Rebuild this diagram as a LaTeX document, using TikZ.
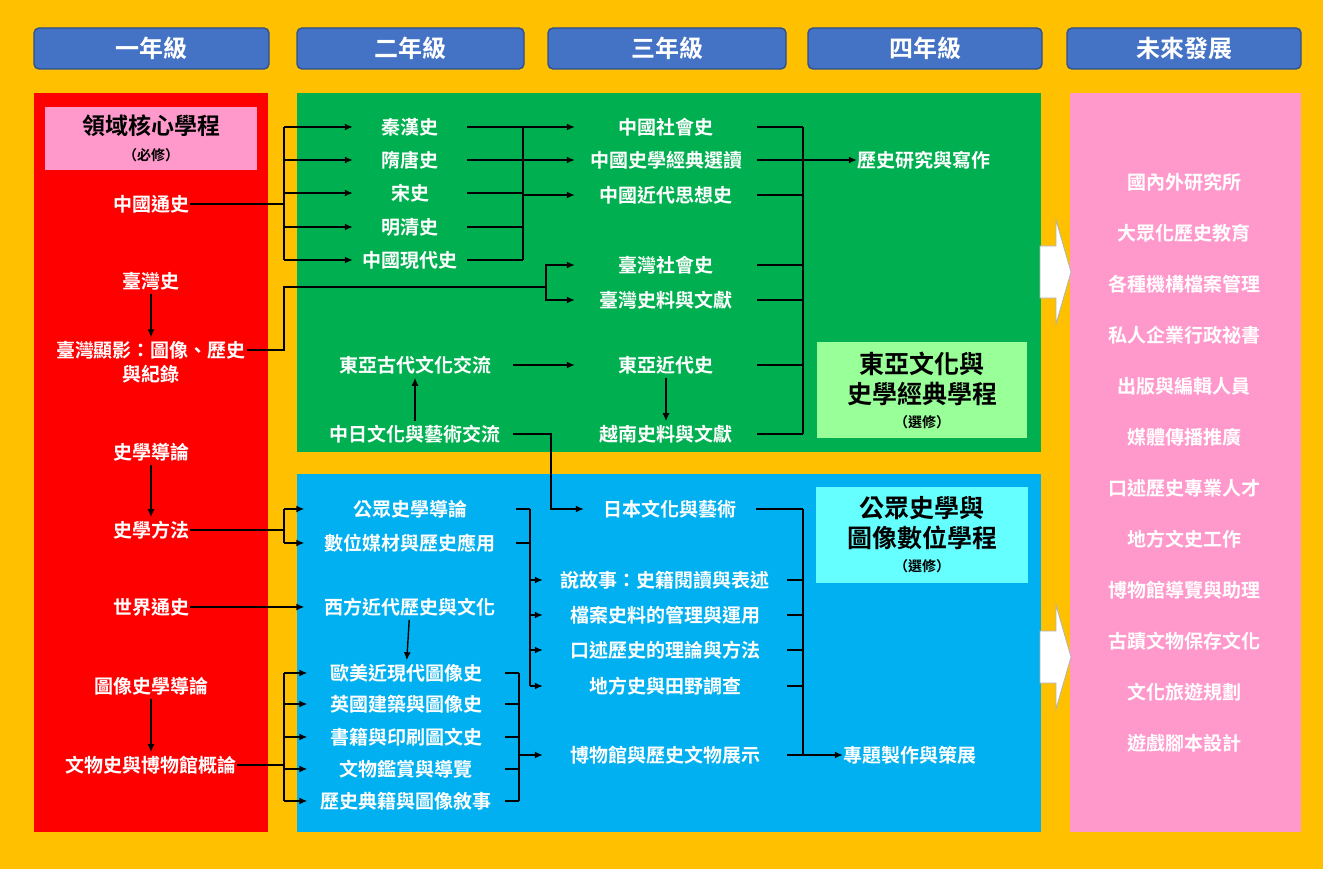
\documentclass[tikz,border=0pt]{standalone}
\usepackage{fontspec}
\setmainfont{Noto Sans CJK TC}[BoldFont={Noto Sans CJK TC Bold}]
\usetikzlibrary{arrows.meta}
\definecolor{bgorange}{HTML}{FFC000}
\definecolor{hdblue}{HTML}{4472C4}
\definecolor{redbox}{HTML}{FF0000}
\definecolor{greenbox}{HTML}{00B050}
\definecolor{bluebox}{HTML}{00B0F0}
\definecolor{pinkbox}{HTML}{FF99CC}
\definecolor{lblgreen}{HTML}{99FF99}
\definecolor{lblcyan}{HTML}{66FFFF}
\tikzstyle{header}=[draw=hdblue!70!black,fill=hdblue,rounded corners=5pt,text=white,font=\fontsize{24}{26}\selectfont\bfseries]
\tikzstyle{course}=[text=white,font=\fontsize{19}{21}\selectfont\bfseries,inner xsep=0pt,inner ysep=3pt,align=center]
\tikzstyle{label}=[text=black,font=\fontsize{25}{30}\selectfont\bfseries,align=center]
\tikzstyle{arr}=[-{Latex[length=8pt,width=7pt]}]
\tikzstyle{bigarrow}=[fill=white,draw=gray!60,line width=0.8pt]
\newcommand{\paren}[1]{{\fontsize{14}{16}\selectfont（#1）}}

\begin{document}
\begin{tikzpicture}[x=1pt,y=-1pt,line width=1.4pt]
  \useasboundingbox (0,0) rectangle (1323,869);
  \fill[bgorange] (0,0) rectangle (1323,869);
  % headers
  \node[header,minimum width=235,minimum height=41] (h1) at (151.5,48.5) {一年級};
  \node[header,minimum width=227,minimum height=41] (h2) at (410.5,48.5) {二年級};
  \node[header,minimum width=238,minimum height=41] (h3) at (667,48.5) {三年級};
  \node[header,minimum width=234,minimum height=41] (h4) at (925,48.5) {四年級};
  \node[header,minimum width=234,minimum height=41] (h5) at (1184,48.5) {未來發展};
  % boxes
  \fill[redbox] (34,93) rectangle (268,832);
  \fill[greenbox] (297,93) rectangle (1041,452);
  \fill[bluebox] (297,474) rectangle (1041,832);
  \fill[pinkbox] (1070,93) rectangle (1301,832);
  \draw[bigarrow] (1040,246) -- (1056,246) -- (1056,220) -- (1071,272) -- (1056,324) -- (1056,298) -- (1040,298) -- cycle;
  \draw[bigarrow] (1040,631) -- (1056,631) -- (1056,605) -- (1071,657) -- (1056,709) -- (1056,683) -- (1040,683) -- cycle;
  % labels
  \node[fill=pinkbox,minimum width=212,minimum height=63,label,font=\fontsize{23}{26}\selectfont\bfseries] (core) at (151,138.5) {領域核心學程\\\paren{必修}};
  \node[fill=lblgreen,minimum width=210,minimum height=96,inner sep=0pt,label] (ea) at (922,390) {東亞文化與\\史學經典學程\\[-6pt]\paren{選修}};
  \node[fill=lblcyan,minimum width=212,minimum height=96,inner sep=0pt,label] (ph) at (922,535) {公眾史學與\\圖像數位學程\\[-6pt]\paren{選修}};
  % year 1
  \node[course] (zgts) at (151,204) {中國通史};
  \node[course] (tws) at (151,281) {臺灣史};
  \node[course] (txa) at (151,350) {臺灣顯影：圖像、歷史};
  \node[course] (txb) at (151,374) {與紀錄};
  \node[course] (sxdl) at (151,452) {史學導論};
  \node[course] (sxff) at (151,530) {史學方法};
  \node[course] (sjts) at (151,607) {世界通史};
  \node[course] (txsx) at (151,686) {圖像史學導論};
  \node[course] (wws) at (151,765) {文物史與博物館概論};
  % year 2, green
  \foreach \n/\t/\y in {qh/秦漢史/127,st/隋唐史/160,ss/宋史/193,mq/明清史/227,xd/中國現代史/260}
    \node[course,minimum width=113] (\n) at (410,\y) {\t};
  \node[course,minimum width=194] (dygd) at (415,365) {東亞古代文化交流};
  \node[course,minimum width=194] (zr) at (415,434) {中日文化與藝術交流};
  % year 3, green
  \foreach \n/\t/\y in {shs/中國社會史/127,jd/中國史學經典選讀/160,sx/中國近代思想史/195,twsh/臺灣社會史/265,twsl/臺灣史料與文獻/300,dyjd/東亞近代史/365,yn/越南史料與文獻/434}
    \node[course,minimum width=181] (\n) at (666,\y) {\t};
  \node[course,minimum width=0] (yj) at (924,160) {歷史研究與寫作};
  % year 2, blue
  \node[course,minimum width=210] (gz) at (410,509) {公眾史學導論};
  \node[course,minimum width=210] (sw) at (410,543) {數位媒材與歷史應用};
  \node[course,minimum width=210] (xf) at (410,607) {西方近代歷史與文化};
  \foreach \n/\t/\y in {om/歐美近現代圖像史/673,yg/英國建築與圖像史/704,sj/書籍與印刷圖文史/737,ww/文物鑑賞與導覽/769,ls/歷史典籍與圖像敘事/801}
    \node[course,minimum width=196] (\n) at (406,\y) {\t};
  % year 3, blue
  \node[course,minimum width=171] (rb) at (670,509) {日本文化與藝術};
  \foreach \n/\t/\y in {sgs/說故事：史籍閱讀與表述/580,da/檔案史料的管理與運用/615,ks/口述歷史的理論與方法/650,df/地方史與田野調查/686,bw/博物館與歷史文物展示/755}
    \node[course,minimum width=243] (\n) at (665,\y) {\t};
  \node[course,minimum width=0] (zt) at (910,755) {專題製作與策展};
  % future
  \foreach \t [count=\i] in {國內外研究所,大眾化歷史教育,各種機構檔案管理,私人企業行政祕書,出版與編輯人員,媒體傳播推廣,口述歷史專業人才,地方文史工作,博物館導覽與助理,古蹟文物保存文化,文化旅遊規劃,遊戲腳本設計}
    \node[course] (f\i) at (1184,131+51*\i) {\t};
  % spines
  \coordinate (sa) at (284,0);
  \coordinate (sb) at (523,0);
  \coordinate (sd) at (803,0);
  \coordinate (se) at (530,0);
  \coordinate (sf) at (519,0);
  \coordinate (sg) at (551,0);
  % year 1 arrows
  \draw[arr] (tws) -- (txa);
  \draw[arr] (sxdl) -- (sxff);
  \draw[arr] (txsx) -- (wws);
  % china
  \draw (zgts.east) -- (zgts.east -| sa);
  \draw (sa |- qh) -- (sa |- xd);
  \foreach \n in {qh,st,ss,mq,xd} \draw[arr] (sa |- \n) -- (\n.west);
  \foreach \n in {qh,st,ss,mq,xd} \draw (\n.east) -- (\n.east -| sb);
  \draw (sb |- qh) -- (sb |- xd);
  \foreach \n in {shs,jd,sx} \draw[arr] (sb |- \n) -- (\n.west);
  % taiwan
  \coordinate (ka) at (284,287);
  \coordinate (kb) at (546,287);
  \draw (txa.east) -| (ka) -- (kb);
  \draw[arr] (kb) |- (twsh.west);
  \draw[arr] (kb) |- (twsl.west);
  % east asia
  \draw[arr] (dygd) -- (dyjd);
  \draw[arr] (zr) -- (dygd);
  \draw[arr] (dyjd) -- (yn);
  \draw[arr] (zr.east) -| (sg |- rb) -- (rb.west);
  \foreach \n in {shs,sx,twsh,twsl,dyjd,yn} \draw (\n.east) -- (\n.east -| sd);
  \draw (sd |- shs) -- (sd |- yn);
  \draw[arr] (jd.east) -- (yj.west);
  % public history
  \draw (sxff.east) -- (sxff.east -| sa);
  \draw (sa |- gz) -- (sa |- sw);
  \foreach \n in {gz,sw} \draw[arr] (sa |- \n) -- (\n.west);
  \draw[arr] (sjts) -- (xf);
  \draw[arr] (xf) -- (om);
  \foreach \n in {gz,sw} \draw (\n.east) -- (\n.east -| se);
  \draw (se |- gz) -- (se |- df);
  \foreach \n in {sgs,da,ks,df} \draw[arr] (se |- \n) -- (\n.west);
  \draw (wws.east) -- (wws.east -| sa);
  \draw (sa |- om) -- (sa |- ls);
  \foreach \n in {om,yg,sj,ww,ls} \draw[arr] (sa |- \n) -- (\n.west);
  \foreach \n in {om,yg,sj,ww,ls} \draw (\n.east) -- (\n.east -| sf);
  \draw (sf |- om) -- (sf |- ls);
  \draw[arr] (sf |- bw) -- (bw.west);
  \foreach \n in {rb,sgs,da,ks,df} \draw (\n.east) -- (\n.east -| sd);
  \draw (sd |- rb) -- (sd |- bw);
  \draw[arr] (bw.east) -- (zt.west);
\end{tikzpicture}
\end{document}
